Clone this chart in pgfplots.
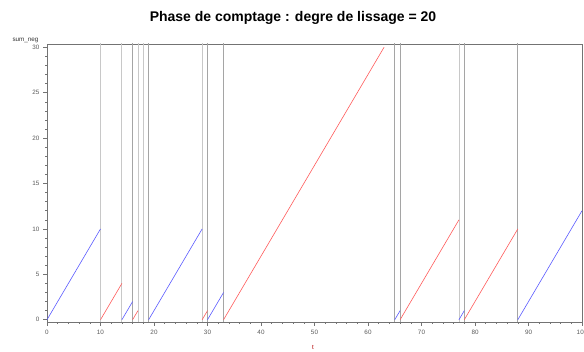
\documentclass[border=0pt]{standalone}
\usepackage{fontspec}
\setmainfont{Liberation Sans}
\usepackage{pgfplots}
\pgfplotsset{compat=1.18}
\definecolor{segblue}{RGB}{90,90,255}
\definecolor{segred}{RGB}{255,90,90}
\definecolor{vlight}{RGB}{200,200,200}
\definecolor{vdark}{RGB}{165,165,165}
\definecolor{axgray}{RGB}{115,115,115}
\begin{document}
\begin{tikzpicture}
\path[use as bounding box] (0,0) rectangle (584pt,351pt);
\begin{axis}[
  at={(47pt,29pt)}, anchor=south west,
  scale only axis, width=535pt, height=278pt,
  xmin=0, xmax=100, ymin=-0.25, ymax=30.36,
  xtick={0,10,...,100}, ytick={0,5,...,30},
  minor x tick num=4, minor y tick num=4,
  xtick pos=bottom, ytick pos=left,
  tick align=outside,
  major tick length=4pt, minor tick length=2pt,
  axis line style={axgray, line width=0.8pt},
  every tick/.style={axgray, line width=0.5pt},
  tick label style={font=\fontsize{6.3}{7}\selectfont, text=black!65},
  /pgf/number format/assume math mode=true,
  xticklabel style={yshift=-0.5pt},
  clip=true,
]
% vertical separators
\addplot[vlight, line width=0.7pt] coordinates {(10,-1) (10,31)};
\addplot[vlight, line width=0.9pt] coordinates {(14,-1) (14,31)};
\addplot[vdark, line width=0.7pt] coordinates {(16,-1) (16,31)};
\addplot[vlight, line width=0.7pt] coordinates {(17,-1) (17,31)};
\addplot[vlight, line width=0.7pt] coordinates {(18,-1) (18,31)};
\addplot[vdark, line width=0.7pt] coordinates {(19,-1) (19,31)};
\addplot[vlight, line width=0.7pt] coordinates {(29,-1) (29,31)};
\addplot[vdark, line width=0.7pt] coordinates {(30,-1) (30,31)};
\addplot[vdark, line width=0.7pt] coordinates {(33,-1) (33,31)};
\addplot[vdark, line width=0.7pt] coordinates {(65,-1) (65,31)};
\addplot[vdark, line width=0.7pt] coordinates {(66,-1) (66,31)};
\addplot[vlight, line width=0.7pt] coordinates {(77,-1) (77,31)};
\addplot[vdark, line width=0.7pt] coordinates {(78,-1) (78,31)};
\addplot[vdark, line width=0.7pt] coordinates {(88,-1) (88,31)};
% blue segments
\addplot[segblue, line width=0.6pt] coordinates {(0,0) (10,10)};
\addplot[segblue, line width=0.6pt] coordinates {(14,0) (16,2)};
\addplot[segblue, line width=0.6pt] coordinates {(19,0) (29,10)};
\addplot[segblue, line width=0.6pt] coordinates {(30,0) (33,3)};
\addplot[segblue, line width=0.6pt] coordinates {(65,0) (66,1)};
\addplot[segblue, line width=0.6pt] coordinates {(77,0) (78,1)};
\addplot[segblue, line width=0.6pt] coordinates {(88,0) (100,12)};
% red segments
\addplot[segred, line width=0.6pt] coordinates {(10,0) (14,4)};
\addplot[segred, line width=0.6pt] coordinates {(16,0) (17,1)};
\addplot[segred, line width=0.6pt] coordinates {(29,0) (30,1)};
\addplot[segred, line width=0.6pt] coordinates {(33,0) (63,30)};
\addplot[segred, line width=0.6pt] coordinates {(66,0) (77,11)};
\addplot[segred, line width=0.6pt] coordinates {(78,0) (88,10)};
\end{axis}
\node[font=\bfseries\fontsize{14}{16}\selectfont] at (293pt,333pt) {Phase de comptage : degre de lissage = 20};
\node[font=\fontsize{6.3}{7}\selectfont, text=black!80] at (25.5pt,311pt) {sum\_neg};
\node[font=\fontsize{6.3}{7}\selectfont, text=red!70!black] at (313pt,4pt) {t};
\end{tikzpicture}
\end{document}
